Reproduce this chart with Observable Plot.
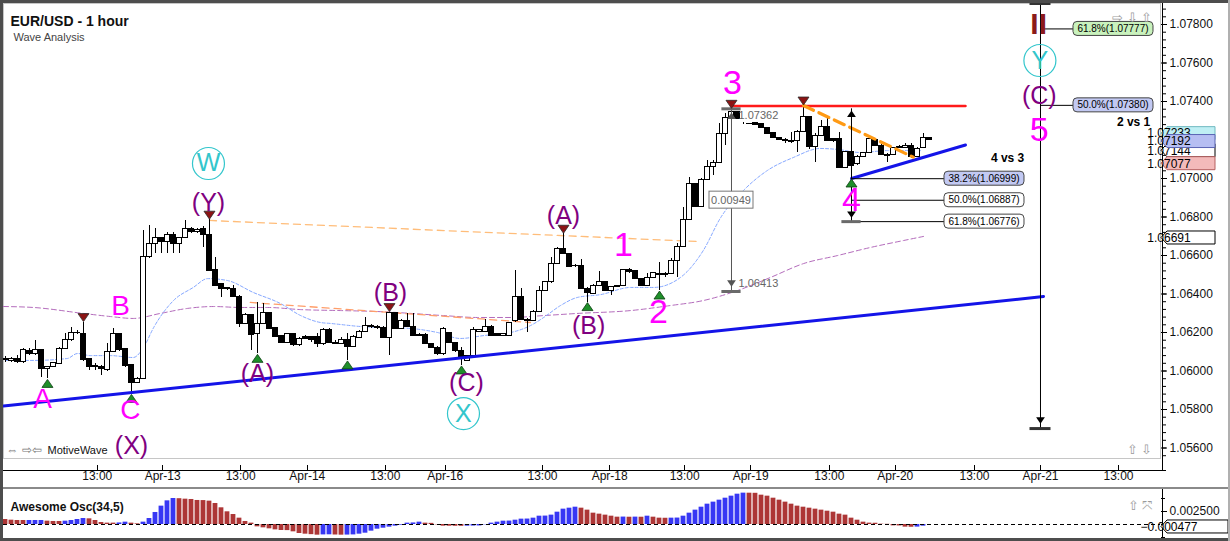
<!DOCTYPE html>
<html><head><meta charset="utf-8">
<script src="https://cdn.jsdelivr.net/npm/d3@7"></script>
<script src="https://cdn.jsdelivr.net/npm/@observablehq/plot@0.6"></script>
<style>
html,body{margin:0;padding:0;background:#fff;overflow:hidden;}
#wrap{position:relative;width:1230px;height:541px;}
.abs{position:absolute;}
</style></head><body>
<div id="wrap">
  <div id="main" class="abs" style="left:0;top:0"></div>
  <div id="taxis" class="abs" style="left:0;top:458px"></div>
  <div class="abs" style="left:0;top:487px;width:1230px;height:2px;background:#8a8a8a"></div>
  <div id="osc" class="abs" style="left:0;top:489px"></div>
  <div class="abs" style="left:0;top:538px;width:1230px;height:3px;background:#4d4d4d"></div>
  <div class="abs" style="left:0;top:0;width:1230px;height:3px;background:#4d4d4d"></div>
  <div class="abs" style="left:0;top:0;width:3px;height:541px;background:#4d4d4d"></div>
  <div class="abs" style="left:1228px;top:0;width:2px;height:541px;background:#b0b0b0"></div>
</div>
<script>
const FONT = '"Liberation Sans", Arial, Helvetica, sans-serif';

// ---------- hourly candles (bar index 0..154) ----------
const open = [
1.06055,1.06051,1.06063,1.06046,1.06103,1.06089,1.06107,1.06011,1.06020,1.06037,
1.06115,1.06159,1.06198,1.06193,1.06060,1.06025,1.06020,1.06003,1.06098,1.06190,
1.06112,1.06029,1.05939,1.05959,1.06592,1.06661,1.06692,1.06670,1.06709,1.06661,
1.06692,1.06739,1.06721,1.06739,1.06704,1.06526,1.06450,1.06431,1.06427,1.06387,
1.06245,1.06289,1.06190,1.06245,1.06302,1.06223,1.06181,1.06146,1.06190,1.06133,
1.06176,1.06176,1.06176,1.06138,1.06214,1.06148,1.06141,1.06162,1.06124,1.06172,
1.06205,1.06233,1.06231,1.06224,1.06171,1.06302,1.06219,1.06262,1.06231,1.06188,
1.06188,1.06141,1.06122,1.06086,1.06197,1.06146,1.06103,1.06051,1.06077,1.06205,
1.06205,1.06231,1.06193,1.06181,1.06181,1.06262,1.06387,1.06266,1.06259,1.06309,
1.06418,1.06460,1.06557,1.06635,1.06609,1.06548,1.06548,1.06427,1.06401,1.06444,
1.06462,1.06418,1.06436,1.06441,1.06526,1.06517,1.06478,1.06444,1.06482,1.06504,
1.06506,1.06504,1.06574,1.06646,1.06785,1.06972,1.06851,1.06993,1.07062,1.07079,
1.07232,1.07313,1.07344,1.07285,1.07284,1.07289,1.07284,1.07263,1.07235,1.07209,
1.07202,1.07197,1.07194,1.07244,1.07318,1.07163,1.07223,1.07270,1.07206,1.07206,
1.07055,1.07137,1.07073,1.07114,1.07131,1.07201,1.07171,1.07124,1.07124,1.07159,
1.07159,1.07171,1.07111,1.07159,1.07209];
const high = [
1.06076,1.06072,1.06081,1.06115,1.06115,1.06159,1.06110,1.06025,1.06046,1.06124,
1.06193,1.06228,1.06211,1.06254,1.06063,1.06037,1.06029,1.06141,1.06219,1.06193,
1.06115,1.06032,1.05965,1.06730,1.06756,1.06739,1.06696,1.06721,1.06721,1.06696,
1.06782,1.06747,1.06739,1.06751,1.06786,1.06592,1.06453,1.06436,1.06444,1.06391,
1.06297,1.06294,1.06358,1.06349,1.06306,1.06228,1.06185,1.06193,1.06197,1.06176,
1.06185,1.06181,1.06197,1.06219,1.06219,1.06159,1.06176,1.06193,1.06185,1.06211,
1.06280,1.06242,1.06236,1.06231,1.06306,1.06306,1.06266,1.06297,1.06297,1.06193,
1.06193,1.06145,1.06127,1.06228,1.06202,1.06150,1.06124,1.06081,1.06228,1.06214,
1.06266,1.06234,1.06197,1.06197,1.06254,1.06522,1.06427,1.06271,1.06314,1.06439,
1.06463,1.06592,1.06643,1.06713,1.06612,1.06552,1.06578,1.06432,1.06448,1.06517,
1.06465,1.06439,1.06444,1.06529,1.06531,1.06522,1.06482,1.06508,1.06513,1.06565,
1.06513,1.06582,1.06660,1.06851,1.07003,1.06976,1.06998,1.07093,1.07093,1.07284,
1.07336,1.07362,1.07350,1.07289,1.07287,1.07293,1.07287,1.07266,1.07241,1.07215,
1.07206,1.07241,1.07249,1.07379,1.07322,1.07232,1.07301,1.07310,1.07209,1.07241,
1.07140,1.07140,1.07119,1.07137,1.07215,1.07206,1.07180,1.07128,1.07163,1.07171,
1.07180,1.07180,1.07159,1.07232,1.07215];
const low = [
1.06046,1.06046,1.06041,1.06037,1.06081,1.06081,1.05968,1.05959,1.06016,1.06033,
1.06110,1.06155,1.06190,1.06051,1.06003,1.06003,1.05977,1.05999,1.06094,1.06103,
1.06020,1.05881,1.05933,1.05956,1.06583,1.06609,1.06609,1.06609,1.06609,1.06609,
1.06687,1.06716,1.06716,1.06644,1.06519,1.06441,1.06384,1.06418,1.06380,1.06228,
1.06242,1.06107,1.06089,1.06242,1.06216,1.06172,1.06141,1.06141,1.06128,1.06128,
1.06162,1.06150,1.06124,1.06134,1.06141,1.06138,1.06138,1.06055,1.06121,1.06167,
1.06202,1.06219,1.06217,1.06167,1.06081,1.06216,1.06216,1.06224,1.06178,1.06178,
1.06138,1.06115,1.06081,1.06082,1.06141,1.06098,1.06029,1.06048,1.06072,1.06202,
1.06202,1.06178,1.06178,1.06178,1.06178,1.06254,1.06262,1.06202,1.06256,1.06306,
1.06415,1.06457,1.06553,1.06605,1.06536,1.06540,1.06424,1.06358,1.06398,1.06441,
1.06412,1.06392,1.06432,1.06437,1.06509,1.06475,1.06440,1.06439,1.06478,1.06418,
1.06487,1.06501,1.06487,1.06643,1.06782,1.06847,1.06847,1.06989,1.07015,1.07076,
1.07171,1.07301,1.07306,1.07280,1.07279,1.07275,1.07260,1.07228,1.07206,1.07197,
1.07180,1.07180,1.07137,1.07241,1.07149,1.07085,1.07220,1.07194,1.07189,1.07050,
1.07052,1.07000,1.07069,1.07111,1.07128,1.07168,1.07119,1.07085,1.07119,1.07154,
1.07154,1.07102,1.07107,1.07154,1.07197];
const close = [
1.06063,1.06060,1.06046,1.06107,1.06089,1.06107,1.06011,1.06020,1.06043,1.06115,
1.06159,1.06198,1.06196,1.06055,1.06020,1.06020,1.06011,1.06098,1.06190,1.06107,
1.06025,1.05939,1.05959,1.06592,1.06661,1.06692,1.06670,1.06709,1.06661,1.06692,
1.06739,1.06721,1.06734,1.06704,1.06522,1.06444,1.06427,1.06424,1.06384,1.06245,
1.06289,1.06185,1.06245,1.06302,1.06219,1.06176,1.06146,1.06190,1.06133,1.06167,
1.06167,1.06159,1.06141,1.06214,1.06145,1.06141,1.06162,1.06124,1.06176,1.06205,
1.06236,1.06228,1.06221,1.06171,1.06302,1.06219,1.06262,1.06228,1.06181,1.06181,
1.06141,1.06119,1.06086,1.06216,1.06146,1.06103,1.06072,1.06077,1.06211,1.06211,
1.06231,1.06181,1.06181,1.06193,1.06250,1.06384,1.06266,1.06259,1.06309,1.06418,
1.06460,1.06557,1.06635,1.06609,1.06540,1.06543,1.06427,1.06405,1.06444,1.06462,
1.06415,1.06436,1.06441,1.06526,1.06514,1.06478,1.06444,1.06482,1.06508,1.06501,
1.06501,1.06574,1.06646,1.06785,1.06972,1.06851,1.06993,1.07062,1.07079,1.07232,
1.07313,1.07344,1.07310,1.07285,1.07282,1.07279,1.07263,1.07232,1.07209,1.07201,
1.07194,1.07189,1.07244,1.07318,1.07163,1.07223,1.07270,1.07197,1.07194,1.07055,
1.07137,1.07067,1.07114,1.07131,1.07206,1.07171,1.07124,1.07116,1.07159,1.07163,
1.07171,1.07111,1.07154,1.07209,1.07201];

// ---------- moving averages ----------
const fastMAIdx = [0,4.7,10.3,12,14.2,17.5,21.3,23,24.7,28,31.3,33.7,37,41.3,45.8,49.2,52.5,54.2,59.2,67.5,72,75.8,79.7,84.2,87.5,89.7,92.5,95.3,99.2,104.2,108,112.5,116.3,119.2,123,127,131.3,135.8,138.7,142.5,147,152.5];
const fastMAVal = [1.06055,1.06055,1.06065,1.06091,1.06080,1.06080,1.06070,1.06122,1.06226,1.06366,1.06434,1.06480,1.06470,1.06408,1.06351,1.06288,1.06252,1.06247,1.06231,1.06221,1.06200,1.06169,1.06184,1.06200,1.06236,1.06278,1.06340,1.06382,1.06397,1.06434,1.06434,1.06486,1.06626,1.06797,1.06938,1.07042,1.07109,1.07156,1.07151,1.07135,1.07145,1.07145];
const slowMAIdx = [-0.33,4.67,13,17.5,21.3,25.8,30.3,34.7,39.2,43.7,49.2,55.8,62,73,78.7,84.2,89.7,95.3,104.2,110.8,116.3,122,127.5,133,138.7,144.2,149.7,153];
const slowMAVal = [1.06335,1.06330,1.06299,1.06283,1.06273,1.06299,1.06325,1.06335,1.06330,1.06330,1.06319,1.06314,1.06309,1.06288,1.06278,1.06278,1.06288,1.06299,1.06314,1.06340,1.06366,1.06418,1.06486,1.06558,1.06600,1.06642,1.06678,1.06699];

// ---------- drawn lines ----------
const trendLineIdx = [-0.33, 173];   const trendLineVal = [1.05818, 1.06387];
const triLineIdx = [141, 160];       const triLineVal = [1.07000, 1.07174];
const redLineIdx = [121, 160];       const redLineVal = [1.07376, 1.07376];
const orangeThickIdx = [133, 151.3]; const orangeThickVal = [1.07379, 1.07111];
const orangeUpIdx = [34, 115.3];     const orangeUpVal = [1.06782, 1.06673];
const orangeLoIdx = [40.8, 87.5];    const orangeLoVal = [1.06356, 1.06252];

// ---------- wave pivots and labels ----------
const pivotIdx  = [7,13,21,34,42,57,64,76,93,97,109,121,133,141];
const pivotType = ["L","H","L","H","L","L","H","L","H","L","L","H","H","L"];
const waveLabelText  = ["A","B","C","(X)","(Y)","(A)","(B)","(C)","(A)","(B)","1","2","3","4","(C)","5"];
const waveLabelIdx   = [6.17,19.17,20.83,21,33.83,42,64.17,76.83,93,97.2,103,108.83,121.17,141,172.3,172.3];
const waveLabelPrice = [1.05857,1.06335,1.05795,1.05608,1.06875,1.05987,1.06403,1.05940,1.06803,1.06236,1.06652,1.06304,1.07494,1.06886,1.07431,1.07249];
const waveLabelStyle = ["magL","magL","magL","pur","pur","pur","pur","pur","pur","pur","mag","mag","mag","mag","pur","mag"];
const circledText  = ["W","X","Y"];
const circledIdx   = [33.83, 76.33, 172.4];
const circledPrice = [1.07078, 1.05779, 1.07613];
const degreeText = ["II"]; const degreeIdx = [172.2]; const degreePrice = [1.07800];

// ---------- measurements ----------
const m32Idx = 121, m32Top = 1.07362, m32Bottom = 1.06413, m32Text = "0.00949";
const m43Idx = 141, m43BoxIdx = 156.5;
const fib43Val  = [1.06999, 1.06887, 1.06776];
const fib43Text = ["38.2%(1.06999)", "50.0%(1.06887)", "61.8%(1.06776)"];
const m5Idx = 172.5, m5BoxIdx = 178, m5Top = 1.07909, m5Bottom = 1.05701;
const fib5Val  = [1.07777, 1.07380];
const fib5Text = ["61.8%(1.07777)", "50.0%(1.07380)"];
const noteText = ["4 vs 3", "2 vs 1"]; const noteIdx = [169.8, 190.8]; const notePrice = [1.07104, 1.07291];

// ---------- axis ticks / tags ----------
const priceTicks = [1.056,1.058,1.060,1.062,1.064,1.066,1.068,1.070,1.072,1.074,1.076,1.078];
const timeTickPos = [15.3,26.2,39.2,50.3,63.3,73.3,89.5,100.7,113.2,124.2,137.3,148.3,161.5,172.5,185.5];
const timeTickLabels = ["13:00","Apr-13","13:00","Apr-14","13:00","Apr-16","13:00","Apr-18","13:00","Apr-19","13:00","Apr-20","13:00","Apr-21","13:00"];
const tagValues = [1.07233, 1.07144, 1.07192, 1.07077, 1.06691];

// ---------- Awesome Oscillator ----------
const ao = [
0.00096,0.00083,0.00077,0.00077,0.00077,0.00077,0.00077,0.00064,0.00058,0.00058,
0.00064,0.00077,0.00096,0.00115,0.00109,0.00077,0.00038,0.00026,0.00026,0.00030,
0.00045,0.00026,0.00013,0.00045,0.00115,0.00231,0.00353,0.00455,0.00500,0.00496,
0.00487,0.00481,0.00462,0.00460,0.00449,0.00404,0.00321,0.00244,0.00192,0.00122,
0.00058,0.00026,-0.00045,-0.00064,-0.00083,-0.00103,-0.00115,-0.00117,-0.00141,-0.00173,
-0.00186,-0.00195,-0.00205,-0.00200,-0.00198,-0.00202,-0.00205,-0.00203,-0.00200,-0.00186,
-0.00167,-0.00128,-0.00090,-0.00071,-0.00051,-0.00032,-0.00013,0.00026,0.00030,0.00045,
0.00026,0.00022,-0.00006,-0.00032,-0.00033,-0.00034,-0.00035,-0.00032,-0.00030,-0.00028,
-0.00006,0.00026,0.00045,0.00064,0.00066,0.00083,0.00103,0.00105,0.00122,0.00160,
0.00162,0.00180,0.00237,0.00295,0.00314,0.00333,0.00314,0.00276,0.00218,0.00199,
0.00180,0.00160,0.00141,0.00143,0.00140,0.00142,0.00140,0.00160,0.00141,0.00122,
0.00120,0.00122,0.00124,0.00160,0.00218,0.00276,0.00333,0.00391,0.00430,0.00468,
0.00506,0.00545,0.00583,0.00603,0.00602,0.00600,0.00564,0.00545,0.00506,0.00468,
0.00430,0.00391,0.00353,0.00333,0.00314,0.00295,0.00276,0.00256,0.00237,0.00199,
0.00180,0.00122,0.00083,0.00045,0.00026,0.00024,0.00006,0.00004,-0.00026,-0.00028,
-0.00051,-0.00053,-0.00050,-0.00032];
const aoColorRuns = [[4,"dn"],[3,"up"],[3,"dn"],[4,"up"],[5,"dn"],[2,"up"],[2,"dn"],[6,"up"],[24,"dn"],[2,"up"],[2,"dn"],[13,"up"],[7,"dn"],[19,"up"],[7,"dn"],[1,"up"],[1,"dn"],[1,"up"],[1,"dn"],[1,"up"],[3,"dn"],[13,"up"],[28,"dn"],[2,"up"]];
const aoLast = -0.000477;
const aoTicks = [-0.0025, 0, 0.0025, 0.005];
const aoLabelTicks = [0.0025];

// ================= build =================
const candles = open.map((o, i) => ({i, o, h: high[i], l: low[i], c: close[i], up: close[i] >= o}));
const pts = (xs, ys) => xs.map((x, k) => ({i: x, p: ys[k]}));
const pivots = pivotIdx.map((i, k) => ({i, type: pivotType[k], p: pivotType[k] === "H" ? high[i] : low[i]}));
const waves = waveLabelText.map((t, k) => ({t, i: waveLabelIdx[k], p: waveLabelPrice[k], s: waveLabelStyle[k]}));
const circled = circledText.map((t, k) => ({t, i: circledIdx[k], p: circledPrice[k]}));
const aoDir = aoColorRuns.flatMap(([n, d]) => Array(n).fill(d));
const aoData = ao.map((v, i) => ({i, v, d: aoDir[i]}));

const xDomain = [-0.33, 192.5];
const MAG = "#ff00ff", PUR = "#800080", CYAN = "#33c6cc";
const STY = {mag: {fill: MAG, size: 34}, magL: {fill: MAG, size: 28}, pur: {fill: PUR, size: 25}};

const triDown = {draw(ctx, size) { const r = Math.sqrt(size / Math.PI), w = 1.375 * r; ctx.moveTo(-w, -r); ctx.lineTo(w, -r); ctx.lineTo(0, r); ctx.closePath(); }};
const triUp = {draw(ctx, size) { const r = Math.sqrt(size / Math.PI), w = 1.375 * r; ctx.moveTo(-w, r); ctx.lineTo(w, r); ctx.lineTo(0, -r); ctx.closePath(); }};

function rightAxisLine() {
  return (index, scales, values, dims) => {
    const x = dims.width - dims.marginRight + 2;
    return d3.create("svg:line").attr("x1", x).attr("x2", x)
      .attr("y1", dims.marginTop).attr("y2", dims.height)
      .attr("stroke", "#000").attr("shape-rendering", "crispEdges").node();
  };
}
function boxes(items) {
  return (index, scales, values, dims) => {
    const g = d3.create("svg:g").attr("font-family", FONT);
    for (const d of items) {
      const x = scales.x(d.i), y = scales.y(d.p);
      const x0 = d.center ? x - d.w / 2 : x;
      g.append("rect").attr("x", x0).attr("y", y - d.h / 2).attr("width", d.w).attr("height", d.h)
        .attr("rx", d.rx).attr("fill", d.fill).attr("stroke", d.stroke);
      g.append("text").attr("x", x0 + d.w / 2).attr("y", y).attr("dy", "0.35em")
        .attr("text-anchor", "middle").attr("font-size", d.fs).attr("fill", d.color).text(d.text);
    }
    return g.node();
  };
}
function tags(items) {
  return (index, scales, values, dims) => {
    const g = d3.create("svg:g").attr("font-family", FONT).attr("font-size", 12);
    const x0 = dims.width - dims.marginRight + 1;
    for (const d of items) {
      const y = scales.y(d.v), h = 13;
      const t = g.append("g");
      t.append("path").attr("d", `M${x0},${y}L${x0 + 6},${y - h / 2}H${x0 + d.w}V${y + h / 2}H${x0 + 6}Z`)
        .attr("fill", d.fill).attr("stroke", d.stroke);
      t.append("text").attr("x", x0 + 8).attr("y", y).attr("dy", "0.36em").attr("fill", "#000").text(d.text);
    }
    return g.node();
  };
}

const tagStyles = [
  {fill: "#bfeff4", stroke: "#6fb8c0"},
  {fill: "#ffffff", stroke: "#000000"},
  {fill: "#b6bef2", stroke: "#5a64b4"},
  {fill: "#f3baba", stroke: "#b56060"},
  {fill: "#ffffff", stroke: "#000000"}
];
const f5 = d3.format(".5f");

const fib43Boxes = fib43Val.map((p, k) => ({i: m43BoxIdx, p, text: fib43Text[k], w: 80, h: 14, rx: 4, fs: 10, color: "#000",
  fill: k === 0 ? "#c2c9f3" : "#ffffff", stroke: "#444"}));
const fib5Boxes = fib5Val.map((p, k) => ({i: m5BoxIdx, p, text: fib5Text[k], w: 80, h: 14, rx: 4, fs: 10, color: "#000",
  fill: k === 0 ? "#c9f2bd" : "#c2c9f3", stroke: "#444"}));
const m32Box = [{i: m32Idx, p: (m32Top + m32Bottom) / 2, text: m32Text, w: 44, h: 17, rx: 0, fs: 11, color: "#666", fill: "#fff", stroke: "#777", center: true}];

const main = Plot.plot({
  width: 1230, height: 458, marginTop: 3, marginBottom: 0, marginLeft: 3, marginRight: 70,
  x: {domain: xDomain, axis: null},
  y: {domain: [1.055455, 1.079091], axis: null},
  color: {type: "identity"},
  style: {fontFamily: FONT, fontSize: "12px", background: "transparent", color: "#000", overflow: "visible"},
  marks: [
    Plot.frame({stroke: "#c6c6c6"}),
    // moving averages and faint channel lines
    Plot.line(pts(slowMAIdx, slowMAVal), {x: "i", y: "p", stroke: "#b46cbc", strokeWidth: 1, strokeDasharray: "5,3", curve: "monotone-x"}),
    Plot.line(pts(fastMAIdx, fastMAVal), {x: "i", y: "p", stroke: "#86a8ff", strokeWidth: 1, strokeDasharray: "3,2", curve: "monotone-x"}),
    Plot.line(pts(orangeUpIdx, orangeUpVal), {x: "i", y: "p", stroke: "#ffbd7a", strokeWidth: 1.3, strokeDasharray: "7,5"}),
    Plot.line(pts(orangeLoIdx, orangeLoVal), {x: "i", y: "p", stroke: "#ff9e6a", strokeWidth: 1.3, strokeDasharray: "7,5"}),
    // candles
    Plot.ruleX(candles, {x: "i", y1: "l", y2: "h", stroke: "#000", strokeWidth: 1, shapeRendering: "crispEdges"}),
    Plot.rect(candles, {x1: d => d.i - 0.36, x2: d => d.i + 0.36, y1: "o", y2: "c",
      fill: d => d.up ? "#ffffff" : "#000000", stroke: "#000", strokeWidth: 1, shapeRendering: "crispEdges"}),
    // trend lines
    Plot.line(pts(trendLineIdx, trendLineVal), {x: "i", y: "p", stroke: "#1414e8", strokeWidth: 3}),
    Plot.line(pts(triLineIdx, triLineVal), {x: "i", y: "p", stroke: "#1414e8", strokeWidth: 3}),
    Plot.line(pts(redLineIdx, redLineVal), {x: "i", y: "p", stroke: "#ff1a1a", strokeWidth: 2.5}),
    Plot.line(pts(orangeThickIdx, orangeThickVal), {x: "i", y: "p", stroke: "#ff9a14", strokeWidth: 3.2, strokeDasharray: "11,6"}),
    // measurement 3 vs 2
    Plot.ruleX([{i: m32Idx, a: m32Top, b: m32Bottom}], {x: "i", y1: "a", y2: "b", stroke: "#555"}),
    Plot.dot([{i: m32Idx, p: m32Top}], {x: "i", y: "p", symbol: triUp, r: 3.2, fill: "#555", dy: 7}),
    Plot.dot([{i: m32Idx, p: m32Bottom}], {x: "i", y: "p", symbol: triDown, r: 3.2, fill: "#555", dy: -8}),
    Plot.text([{i: m32Idx, p: m32Top}], {x: "i", y: "p", text: d => f5(d.p), dx: 7, dy: 7, textAnchor: "start", fill: "#666", fontSize: 11}),
    Plot.text([{i: m32Idx, p: m32Bottom}], {x: "i", y: "p", text: d => f5(d.p), dx: 7, dy: -8, textAnchor: "start", fill: "#666", fontSize: 11}),
    // measurement 4 vs 3
    Plot.ruleX([{i: m43Idx, a: m32Top, b: fib43Val[2]}], {x: "i", y1: "a", y2: "b", stroke: "#000"}),
    Plot.ruleY(fib43Val, {y: d => d, x1: () => m43Idx, x2: () => m43BoxIdx, stroke: "#000"}),
    Plot.dot([{i: m43Idx, p: m32Top}], {x: "i", y: "p", symbol: triUp, r: 3.2, fill: "#000", dy: 5}),
    Plot.dot([{i: m43Idx, p: fib43Val[2]}], {x: "i", y: "p", symbol: triDown, r: 3.2, fill: "#000", dy: -7}),
    // measurement 5 (projection)
    Plot.ruleX([{i: m5Idx, a: m5Top, b: m5Bottom}], {x: "i", y1: "a", y2: "b", stroke: "#000"}),
    Plot.ruleY(fib5Val, {y: d => d, x1: () => m5Idx, x2: () => m5BoxIdx, stroke: "#000"}),
    Plot.dot([{i: m5Idx, p: m5Bottom}], {x: "i", y: "p", symbol: triDown, r: 3.2, fill: "#000", dy: -8}),
    Plot.ruleY([{i: m32Idx, p: m32Top}, {i: m32Idx, p: m32Bottom}, {i: m43Idx, p: fib43Val[2]}],
      {y: "p", x1: d => d.i - 1.6, x2: d => d.i + 1.6, stroke: "#6a6a6a", strokeWidth: 3}),
    Plot.ruleY([{i: m5Idx, p: m5Top}, {i: m5Idx, p: m5Bottom}],
      {y: "p", x1: d => d.i - 1.75, x2: d => d.i + 1.75, stroke: "#333", strokeWidth: 3}),
    // pivot markers
    Plot.dot(pivots.filter(d => d.type === "H"), {x: "i", y: "p", symbol: triDown, r: 4, fill: "#8c1414", stroke: "#2a2a2a", strokeWidth: 0.8, dy: -4.5}),
    Plot.dot(pivots.filter(d => d.type === "L"), {x: "i", y: "p", symbol: triUp, r: 4, fill: "#1f8f2a", stroke: "#0d3d12", strokeWidth: 0.8, dy: 4.5}),
    // wave labels
    ...Object.entries(STY).map(([k, s]) => Plot.text(waves.filter(d => d.s === k),
      {x: "i", y: "p", text: "t", fill: s.fill, fontSize: s.size, fontFamily: FONT})),
    Plot.dot(circled, {x: "i", y: "p", r: 16, stroke: CYAN, strokeWidth: 1.2, fill: "none"}),
    Plot.text(circled, {x: "i", y: "p", text: "t", fill: CYAN, fontSize: 25, fontFamily: FONT}),
    Plot.text(degreeText.map((t, k) => ({t, i: degreeIdx[k], p: degreePrice[k]})),
      {x: "i", y: "p", text: "t", fill: "#8b1a1a", fontSize: 30, fontWeight: "bold", fontFamily: FONT}),
    // notes
    Plot.text(noteText.map((t, k) => ({t, i: noteIdx[k], p: notePrice[k]})),
      {x: "i", y: "p", text: "t", textAnchor: "end", fontWeight: "bold", fontSize: 12, fill: "#000"}),
    // label boxes
    boxes(fib43Boxes), boxes(fib5Boxes), boxes(m32Box),
    // right price axis
    Plot.axisY(d3.range(0, 60).map(k => 1.0556 + 0.0004 * k), {anchor: "right", tickSize: 3, dx: 2, tickFormat: () => "", label: null}),
    Plot.axisY(priceTicks, {anchor: "right", tickSize: 6, tickFormat: f5, fontSize: 12, fill: "#111", label: null}),
    rightAxisLine(),
    tags(tagValues.map((v, k) => ({v, text: f5(v), w: 54, ...tagStyles[k]}))),
    // titles and chrome
    Plot.text(["EUR/USD - 1 hour"], {text: d => d, frameAnchor: "top-left", dx: 7, dy: 13, fontSize: 14, fontWeight: "bold", fill: "#111", textAnchor: "start"}),
    Plot.text(["Wave Analysis"], {text: d => d, frameAnchor: "top-left", dx: 10, dy: 30, fontSize: 11, fill: "#444", textAnchor: "start"}),
    Plot.text(["\u21E8 \u21E9 \u21E7"], {text: d => d, frameAnchor: "top-right", dx: -8, dy: 9, fontSize: 13, fill: "#9a9a9a", textAnchor: "end"}),
    Plot.text(["\u21E7 \u21E9"], {text: d => d, frameAnchor: "bottom-right", dx: -8, dy: -5, fontSize: 13, fill: "#9a9a9a", textAnchor: "end"}),
    Plot.text(["\u21D4 \u21E8\u21E6"], {text: d => d, frameAnchor: "bottom-left", dx: 3, dy: -5, fontSize: 12, fill: "#777", textAnchor: "start"}),
    Plot.text(["MotiveWave"], {text: d => d, frameAnchor: "bottom-left", dx: 44, dy: -5, fontSize: 11, fill: "#111", textAnchor: "start"})
  ]
});
document.getElementById("main").appendChild(main);

const taxis = Plot.plot({
  width: 1230, height: 28, marginTop: 7, marginBottom: 16, marginLeft: 3, marginRight: 70,
  x: {domain: xDomain, axis: null},
  y: {domain: [0, 1], axis: null},
  style: {fontFamily: FONT, fontSize: "12px", background: "transparent", color: "#000", overflow: "visible"},
  marks: [
    Plot.tickX(timeTickPos, {x: d => d, stroke: "#000", shapeRendering: "crispEdges"}),
    Plot.text(timeTickPos, {x: d => d, text: (d, k) => timeTickLabels[k], frameAnchor: "bottom", dy: 9, fontSize: 12, fill: "#111"}),
    (index, scales, values, dims) => {
      const y = dims.height - dims.marginBottom, xr = dims.width - dims.marginRight + 2;
      const g = d3.create("svg:g").attr("stroke", "#000").attr("shape-rendering", "crispEdges");
      g.append("line").attr("x1", dims.marginLeft).attr("x2", xr + 4).attr("y1", y).attr("y2", y);
      g.append("line").attr("x1", xr).attr("x2", xr).attr("y1", 0).attr("y2", y);
      return g.node();
    }
  ]
});
document.getElementById("taxis").appendChild(taxis);

const osc = Plot.plot({
  width: 1230, height: 49, marginTop: 0, marginBottom: 0, marginLeft: 3, marginRight: 70,
  x: {domain: xDomain, axis: null},
  y: {domain: [-0.002692, 0.006731], axis: null},
  color: {type: "identity"},
  style: {fontFamily: FONT, fontSize: "12px", background: "transparent", color: "#000", overflow: "visible"},
  marks: [
    Plot.rectY(aoData, {x1: d => d.i - 0.4, x2: d => d.i + 0.4, y: "v", fill: d => d.d === "up" ? "#3737f4" : "#ad3636"}),
    Plot.ruleY([0], {stroke: "#000", strokeDasharray: "4,3", strokeWidth: 1.2}),
    Plot.text(["Awesome Osc(34,5)"], {text: d => d, frameAnchor: "top-left", dx: 7, dy: 13, fontSize: 12, fontWeight: "bold", fill: "#111", textAnchor: "start"}),
    Plot.text(["\u21E7 \u2927"], {text: d => d, frameAnchor: "top-right", dx: -8, dy: 11, fontSize: 13, fill: "#9a9a9a", textAnchor: "end"}),
    Plot.axisY(aoTicks, {anchor: "right", tickSize: 4, tickFormat: () => "", label: null}),
    Plot.axisY(aoLabelTicks, {anchor: "right", tickSize: 6, tickFormat: d3.format(".6f"), fontSize: 12, fill: "#111", label: null}),
    rightAxisLine(),
    tags([{v: aoLast, text: d3.format(".6f")(aoLast), w: 67, fill: "#fff", stroke: "#000"}])
  ]
});
document.getElementById("osc").appendChild(osc);
</script>
</body></html>
